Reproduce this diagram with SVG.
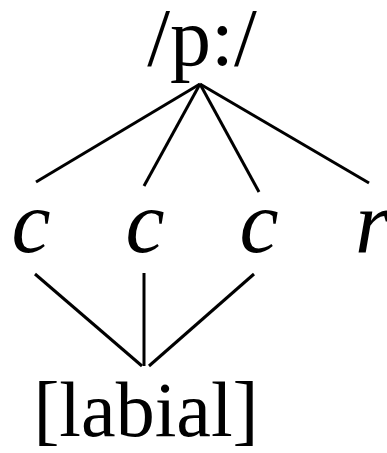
<svg xmlns="http://www.w3.org/2000/svg" width="387" height="453" viewBox="0 0 387 453">
<style>
.t{font-family:"Liberation Serif","Times New Roman",serif;fill:#000}
.i{font-style:italic}
.e{stroke:#000;stroke-width:3;fill:none;stroke-linecap:butt}
</style>
<rect width="387" height="453" fill="#fff"/>
<g id="connectors">
<line class="e" x1="200" y1="84" x2="36" y2="182"/>
<line class="e" x1="200" y1="84" x2="144" y2="186"/>
<line class="e" x1="200" y1="84" x2="259" y2="192"/>
<line class="e" x1="200" y1="84" x2="369" y2="183"/>
<line class="e" x1="35" y1="274" x2="142" y2="366"/>
<line class="e" x1="144" y1="273" x2="144" y2="366"/>
<line class="e" x1="254" y1="274" x2="149" y2="366"/>
</g>
<g id="root"><text class="t" x="202" y="65" font-size="82" text-anchor="middle">/p:/</text></g>
<g id="c1"><text class="t i" x="31" y="252" font-size="88" text-anchor="middle">c</text></g>
<g id="c2"><text class="t i" x="145" y="252" font-size="88" text-anchor="middle">c</text></g>
<g id="c3"><text class="t i" x="259" y="252" font-size="88" text-anchor="middle">c</text></g>
<g id="r"><text class="t i" x="372" y="252" font-size="88" text-anchor="middle">r</text></g>
<g id="labial"><text class="t" x="146" y="436" font-size="78" text-anchor="middle">[labial]</text></g>
</svg>
